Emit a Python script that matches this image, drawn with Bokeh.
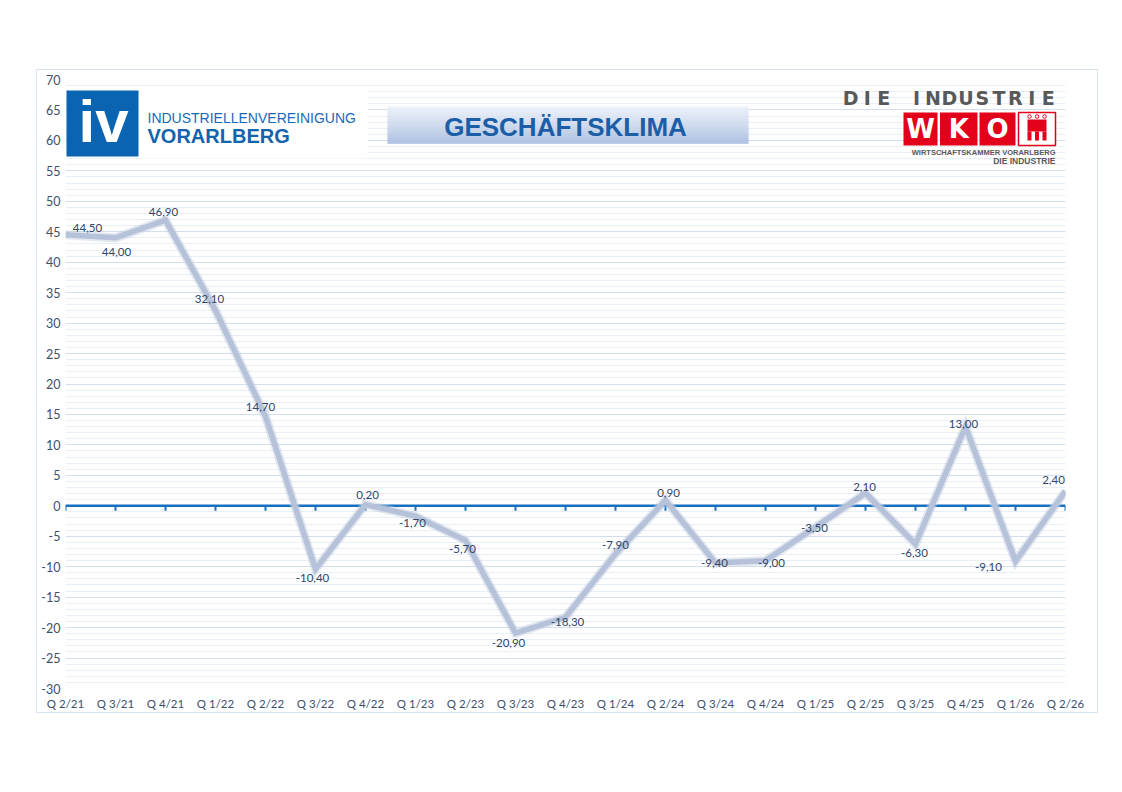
from bokeh.plotting import figure
from bokeh.models import (Range1d, SingleIntervalTicker, FixedTicker, ColumnDataSource, Span)
from bokeh.core.properties import value
from bokeh.embed import file_html
from bokeh.resources import INLINE

# ---------------- data ----------------
quarters = ["Q 2/21", "Q 3/21", "Q 4/21", "Q 1/22", "Q 2/22", "Q 3/22", "Q 4/22",
            "Q 1/23", "Q 2/23", "Q 3/23", "Q 4/23", "Q 1/24", "Q 2/24", "Q 3/24",
            "Q 4/24", "Q 1/25", "Q 2/25", "Q 3/25", "Q 4/25", "Q 1/26", "Q 2/26"]
climate = [44.5, 44.0, 46.9, 32.1, 14.7, -10.4, 0.2, -1.7, -5.7, -20.9, -18.3,
           -7.9, 0.9, -9.4, -9.0, -3.5, 2.1, -6.3, 13.0, -9.1, 2.4]
y_min, y_max, y_step = -30, 70, 5
y_tick_labels = {v: str(v) for v in range(y_min, y_max + 1, y_step)}

# label offsets in screen pixels (style only)
label_dx = [22, 1, -2, -6, -5, -3, 2, -3, -3, -7, 2, 0, 3, -1, 6, -1, -1, -1, -2, -27, -12]
label_dy = [-7, 14, -8, -11, -9, 9, -10, 7, 8, 10, 5, -9, -7, 0, 2, 1, -6, 9, -3, 6, -11]

# ---------------- layout constants (window pixels) ----------------
BOX_L, BOX_T, BOX_R, BOX_B = 37, 70, 1097, 712
FL, FR, FT, FB = 65, 1065, 79, 688
W, H = BOX_R - BOX_L, BOX_B - BOX_T
n = len(quarters)

def px_x(px):
    return (px - FL) / (FR - FL) * (n - 1)

def px_y(py):
    return y_max - (py - FT) / (FB - FT) * (y_max - y_min)

FONT = "Lato"
AX_COL = "#3e4f6c"

p = figure(width=W, height=H, output_backend="svg", toolbar_location=None, title=None,
           x_range=Range1d(0, n - 1), y_range=Range1d(y_min, y_max),
           min_border_left=FL - BOX_L, min_border_right=BOX_R - FR,
           min_border_top=FT - BOX_T, min_border_bottom=BOX_B - FB,
           background_fill_color="white", border_fill_color="white",
           margin=(BOX_T, 0, 0, BOX_L),
           styles={"outline": "1.5px solid #d7e3f1"})
p.outline_line_color = None

# axes
yt = SingleIntervalTicker(interval=y_step, num_minor_ticks=5)
p.yaxis.ticker = yt
p.ygrid.ticker = yt
p.yaxis.major_label_overrides = y_tick_labels
p.yaxis.axis_line_color = None
p.yaxis.major_tick_line_color = None
p.yaxis.minor_tick_line_color = None
p.yaxis.major_tick_out = 0
p.yaxis.minor_tick_out = 0
p.yaxis.major_label_standoff = 5
p.yaxis.major_label_text_font = FONT
p.yaxis.major_label_text_font_size = "12.5px"
p.yaxis.major_label_text_color = AX_COL

p.xaxis.ticker = FixedTicker(ticks=list(range(n)))
p.xaxis.major_label_overrides = {i: q for i, q in enumerate(quarters)}
p.xaxis.axis_line_color = None
p.xaxis.major_tick_line_color = None
p.xaxis.minor_tick_line_color = None
p.xaxis.major_tick_out = 0
p.xaxis.minor_tick_out = 0
p.xaxis.major_label_standoff = 8
p.xaxis.major_label_text_font = FONT
p.xaxis.major_label_text_font_size = "11.5px"
p.xaxis.major_label_text_color = AX_COL

p.xgrid.visible = False
p.ygrid.grid_line_color = "#d3dfee"
p.ygrid.grid_line_width = 1.2
p.ygrid.minor_grid_line_color = "#e9eff7"
p.ygrid.minor_grid_line_width = 1

# ---------------- logos / header decoration ----------------
SANS = value("Liberation Sans")
# IV logo
p.quad(left=[px_x(138)], right=[px_x(367)], top=[px_y(88)], bottom=[px_y(158)],
       fill_color="white", line_color=None)
p.quad(left=[px_x(66)], right=[px_x(138)], top=[px_y(90)], bottom=[px_y(156)],
       fill_color="#0b64b1", line_color=None)
p.text(x=[px_x(103)], y=[px_y(142 - 0.35 * 60)], text=["iv"], text_align="center",
       text_baseline="middle", text_font=SANS,
       text_font_style="bold", text_font_size="60px", text_color="white")
p.text(x=[px_x(147)], y=[px_y(122 - 0.35 * 14)], text=["INDUSTRIELLENVEREINIGUNG"],
       text_align="left", text_baseline="middle", text_font=SANS,
       text_font_size="14px", text_color="#1a6ab8")
p.text(x=[px_x(147)], y=[px_y(142 - 0.35 * 20)], text=["VORARLBERG"], text_align="left",
       text_baseline="middle", text_font=SANS,
       text_font_style="bold", text_font_size="20px", text_color="#1463ad")

# title banner with vertical gradient
b_top, b_bot, b_left, b_right = 106, 143, 387, 748
rows = b_bot - b_top
c0, c1 = (236, 241, 249), (166, 187, 222)
lefts, rights, tops, bots, cols = [], [], [], [], []
for i in range(rows):
    t = i / (rows - 1)
    c = tuple(int(round(c0[k] + (c1[k] - c0[k]) * t)) for k in range(3))
    lefts.append(px_x(b_left)); rights.append(px_x(b_right))
    tops.append(px_y(b_top + i)); bots.append(px_y(b_top + i + 1.3))
    cols.append("#%02x%02x%02x" % c)
p.quad(left=lefts, right=rights, top=tops, bottom=bots, fill_color=cols, line_color=None)
p.text(x=[px_x(565)], y=[px_y(136 - 0.35 * 26)], text=["GESCHÄFTSKLIMA"], text_align="center",
       text_baseline="middle", text_font=SANS,
       text_font_style="bold", text_font_size="26px", text_color="#1b5ea7")

# WKO logo
GRAY = "#58595b"
WIDE = value("DejaVu Sans")
letters = list("DIE INDUSTRIE")
pitch = (1056 - 842) / len(letters)
lx = [px_x(842 + pitch * (i + 0.5)) for i in range(len(letters))]
p.text(x=lx, y=[px_y(104 - 0.36 * 19)] * len(letters), text=letters, text_align="center",
       text_baseline="middle", text_font=WIDE,
       text_font_style="bold", text_font_size="19px", text_color=GRAY)
box_l = [903, 939.5, 979]
box_r = [937, 977, 1015]
p.quad(left=[px_x(v) for v in box_l], right=[px_x(v) for v in box_r],
       top=[px_y(112)] * 3, bottom=[px_y(145)] * 3, fill_color="#e2001a", line_color=None)
p.text(x=[px_x((a + b) / 2) for a, b in zip(box_l, box_r)], y=[px_y(138 - 0.36 * 26)] * 3,
       text=["W", "K", "O"], text_align="center", text_baseline="middle",
       text_font=WIDE, text_font_style="bold",
       text_font_size="26px", text_color="white")
p.quad(left=[px_x(1018)], right=[px_x(1055)], top=[px_y(112)], bottom=[px_y(145)],
       fill_color="white", line_color="#e2001a", line_width=1.5)
p.quad(left=[px_x(1027)], right=[px_x(1046)], top=[px_y(119)], bottom=[px_y(131)],
       fill_color="#e2001a", line_color=None)
p.quad(left=[px_x(v) for v in (1027, 1034.5, 1042)], right=[px_x(v) for v in (1031, 1038.5, 1046)],
       top=[px_y(131)] * 3, bottom=[px_y(140)] * 3, fill_color="#e2001a", line_color=None)
p.scatter(x=[px_x(v) for v in (1029, 1036.5, 1044)], y=[px_y(116)] * 3, size=3.5,
          marker="circle", fill_color="white", line_color="#e2001a", line_width=1)
p.text(x=[px_x(1055)], y=[px_y(151.5)], text=["WIRTSCHAFTSKAMMER VORARLBERG"], text_align="right",
       text_baseline="middle", text_font=SANS, text_font_style="bold",
       text_font_size="7.5px", text_color=GRAY)
p.text(x=[px_x(1055)], y=[px_y(160.5)], text=["DIE INDUSTRIE"], text_align="right",
       text_baseline="middle", text_font=SANS, text_font_style="bold",
       text_font_size="8.5px", text_color=GRAY)

# ---------------- zero line with ticks ----------------
p.add_layout(Span(location=0, dimension="width", line_color="#1570c2", line_width=2.5,
                  level="underlay"))
xs = list(range(n))
p.segment(x0=xs, y0=[0] * n, x1=xs, y1=[-0.8] * n, line_color="#1570c2", line_width=2)

# ---------------- series ----------------
src = ColumnDataSource(dict(
    x=xs, y=climate,
    label=[f"{v:.2f}".replace(".", ",") for v in climate],
    dx=label_dx, dy=label_dy))
p.line(x="x", y="y", source=src, line_color="#c7d0e2", line_width=9, line_alpha=0.5,
       line_join="miter")
p.line(x="x", y="y", source=src, line_color="#b6c2d9", line_width=5.5, line_join="miter")
p.text(x="x", y="y", text="label", x_offset="dx", y_offset="dy", source=src,
       text_align="center", text_baseline="middle", text_font=value(FONT),
       text_font_size="11.5px", text_color="#2f4569")

open("out.html", "w").write(file_html(p, INLINE))
